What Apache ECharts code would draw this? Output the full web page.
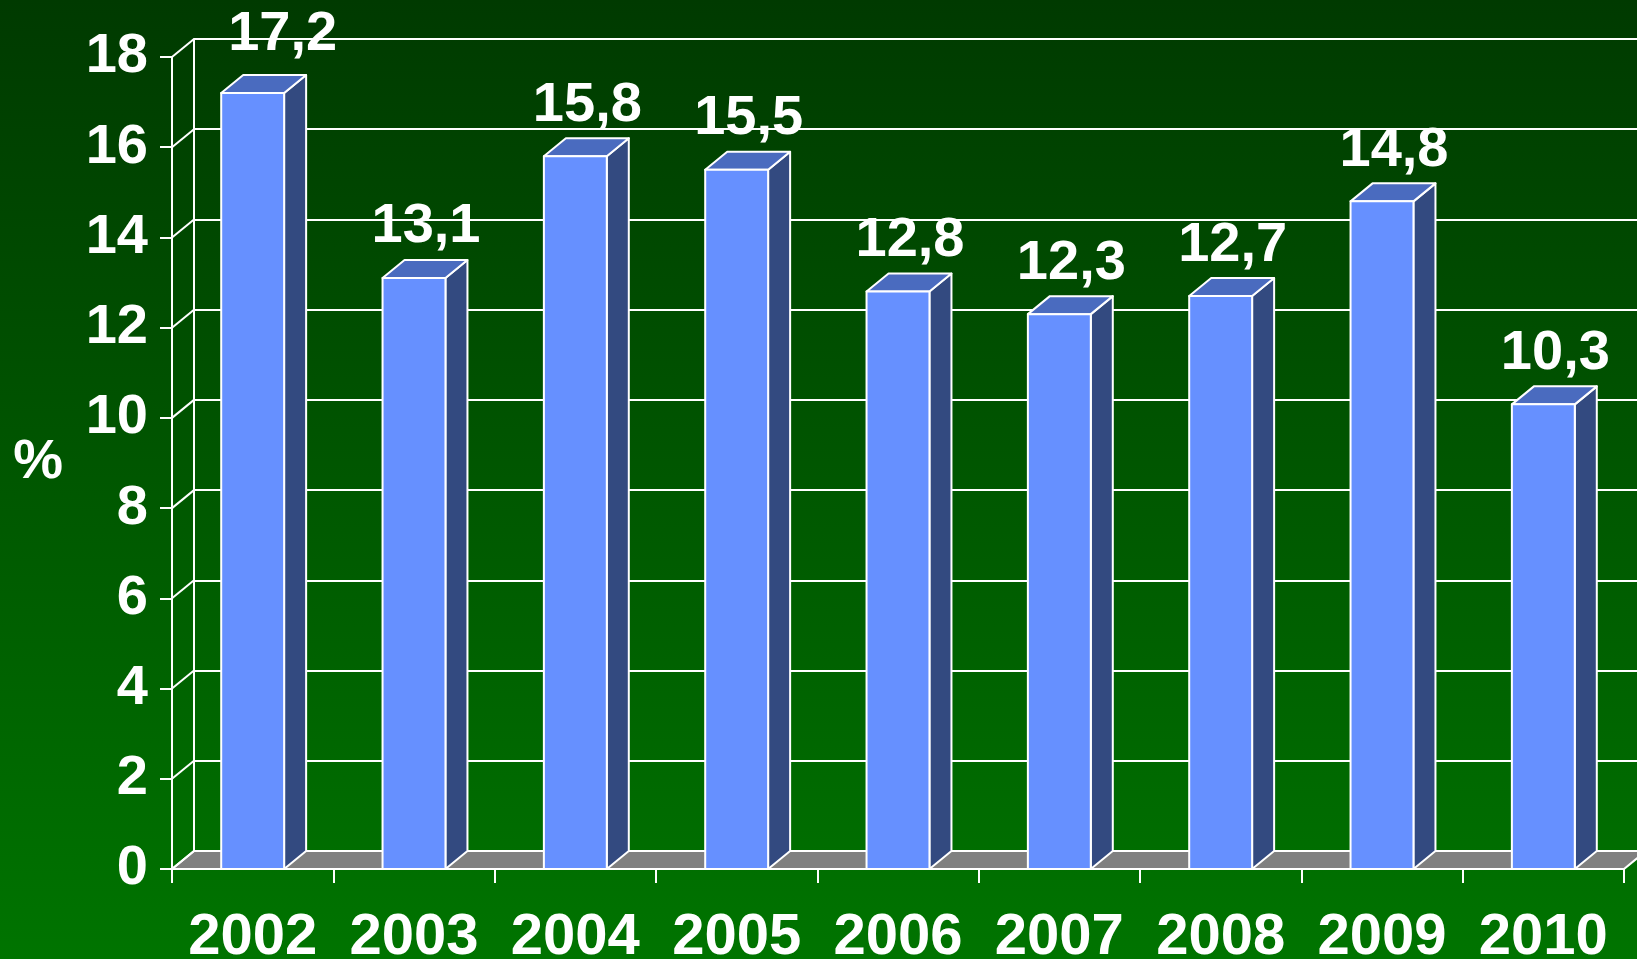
<!DOCTYPE html>
<html>
<head>
<meta charset="utf-8">
<script src="https://cdn.jsdelivr.net/npm/echarts@6/dist/echarts.min.js"></script>
<style>
html,body{margin:0;padding:0;background:#003a00;}
#chart{width:1637px;height:959px;}
</style>
</head>
<body>
<div id="chart"></div>
<script>
const categories = ['2002','2003','2004','2005','2006','2007','2008','2009','2010'];
const values = [17.2, 13.1, 15.8, 15.5, 12.8, 12.3, 12.7, 14.8, 10.3];
const valueLabels = ['17,2','13,1','15,8','15,5','12,8','12,3','12,7','14,8','10,3'];
const yTicks = [0, 2, 4, 6, 8, 10, 12, 14, 16, 18];
const yUnit = '%';

const DX = 22, DY = 18;
const FONT = 'bold 56px "Liberation Sans", Arial, sans-serif';

const chart = echarts.init(document.getElementById('chart'));

function barItem(params, api) {
  const i = api.value(0), v = api.value(1);
  const top = api.coord([i, v]);
  const base = api.coord([i, 0]);
  const bw = api.size([1, 0])[0] * 0.39;
  const x0 = top[0] - bw / 2, x1 = top[0] + bw / 2;
  const ty = top[1], by = base[1];
  const stroke = { stroke: '#ffffff', lineWidth: 2, lineJoin: 'round' };
  let lx = top[0] + 12, ly = ty - 51;
  if (params.dataIndex === 0) { lx = top[0] + 30; ly = ty - 59; }
  return {
    type: 'group',
    children: [
      { type: 'polygon', shape: { points: [[x1, ty], [x1 + DX, ty - DY], [x1 + DX, by - DY], [x1, by]] },
        style: Object.assign({ fill: '#334a80' }, stroke) },
      { type: 'polygon', shape: { points: [[x0, ty], [x0 + DX, ty - DY], [x1 + DX, ty - DY], [x1, ty]] },
        style: Object.assign({ fill: '#4a6bbf' }, stroke) },
      { type: 'rect', shape: { x: x0, y: ty, width: bw, height: by - ty },
        style: Object.assign({ fill: '#6690ff' }, stroke) },
      { type: 'text', x: lx, y: ly,
        style: { text: valueLabels[params.dataIndex], fill: '#ffffff', font: FONT,
                 align: 'center', verticalAlign: 'middle', textAlign: 'center', textVerticalAlign: 'middle' } }
    ]
  };
}

function floorItem(params, api) {
  const cs = params.coordSys;
  const y0 = api.coord([0, 0])[1];
  const xa = cs.x, xb = cs.x + cs.width;
  return {
    type: 'polygon',
    shape: { points: [[xa, y0], [xb, y0], [xb + DX, y0 - DY], [xa + DX, y0 - DY]] },
    style: { fill: '#808080', stroke: '#ffffff', lineWidth: 2 }
  };
}

function connectorItem(params, api) {
  const cs = params.coordSys;
  const y = api.coord([0, api.value(1)])[1];
  return {
    type: 'line',
    shape: { x1: cs.x, y1: y, x2: cs.x + DX, y2: y - DY },
    style: { stroke: '#ffffff', lineWidth: 2 }
  };
}

const option = {
  backgroundColor: {
    type: 'linear', x: 0, y: 0, x2: 0, y2: 1,
    colorStops: [{ offset: 0, color: '#003a00' }, { offset: 1, color: '#007400' }]
  },
  animation: false,
  grid: [
    { left: 172, top: 57, width: 1452, height: 812, containLabel: false, outerBoundsMode: 'none' },
    { left: 194, top: 39, width: 1452, height: 812, containLabel: false, outerBoundsMode: 'none' }
  ],
  xAxis: [
    {
      type: 'category', gridIndex: 0, data: categories, boundaryGap: true,
      axisLine: { show: true, lineStyle: { color: '#ffffff', width: 2 } },
      axisTick: { show: true, interval: 0, length: 14, lineStyle: { color: '#ffffff', width: 2 } },
      axisLabel: { interval: 0, color: '#ffffff', fontSize: 58, fontWeight: 'bold', fontFamily: 'Liberation Sans', margin: 40 },
      splitLine: { show: false }
    },
    { type: 'category', gridIndex: 1, data: categories, show: false }
  ],
  yAxis: [
    {
      type: 'value', gridIndex: 0, min: 0, max: 18, interval: 2,
      name: yUnit, nameLocation: 'middle', nameRotate: 0, nameGap: 109,
      nameTextStyle: { color: '#ffffff', fontSize: 56, fontWeight: 'bold', fontFamily: 'Liberation Sans' },
      axisLine: { show: true, lineStyle: { color: '#ffffff', width: 2 } },
      axisTick: { show: true, length: 12, lineStyle: { color: '#ffffff', width: 2 } },
      axisLabel: { color: '#ffffff', fontSize: 56, fontWeight: 'bold', fontFamily: 'Liberation Sans', margin: 24,
                   formatter: function (v) { return yTicks.indexOf(v) >= 0 ? String(v) : ''; } },
      splitLine: { show: false }
    },
    {
      type: 'value', gridIndex: 1, min: 0, max: 18, interval: 2,
      axisLine: { show: true, lineStyle: { color: '#ffffff', width: 2 } },
      axisTick: { show: false },
      axisLabel: { show: false },
      splitLine: { show: true, lineStyle: { color: '#ffffff', width: 2 } }
    }
  ],
  series: [
    { type: 'custom', xAxisIndex: 0, yAxisIndex: 0, renderItem: floorItem, data: [[0, 0]], z: 2, silent: true },
    { type: 'custom', xAxisIndex: 0, yAxisIndex: 0, renderItem: connectorItem,
      data: yTicks.map(function (t) { return [0, t]; }), z: 3, silent: true },
    { type: 'custom', xAxisIndex: 0, yAxisIndex: 0, renderItem: barItem,
      data: values.map(function (v, i) { return [i, v]; }), encode: { x: 0, y: 1 }, z: 4, clip: false }
  ]
};
chart.setOption(option);
</script>
</body>
</html>
